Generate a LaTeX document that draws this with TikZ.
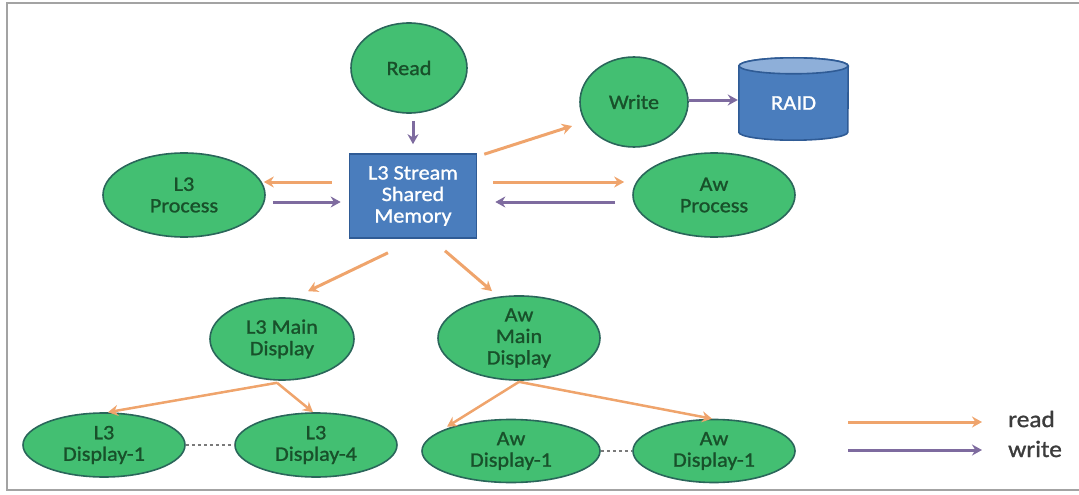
\documentclass[tikz,border=0pt]{standalone}
\usepackage{fontspec}
\setmainfont{Carlito}
\newfontfamily\diagfont[FakeStretch=1.08,FakeBold=1.2]{Carlito}
\usetikzlibrary{arrows.meta,calc,shapes.geometric,backgrounds}

\definecolor{nodefill}{HTML}{43BF72}
\definecolor{nodeedge}{HTML}{2A665A}
\definecolor{nodetext}{HTML}{18502A}
\definecolor{memfill}{HTML}{4A7DBD}
\definecolor{memedge}{HTML}{2F5B95}
\definecolor{raidtop}{HTML}{8EAFD9}
\definecolor{readclr}{HTML}{EFA46C}
\definecolor{writeclr}{HTML}{7E6B9F}
\definecolor{frameclr}{HTML}{A3A3A3}
\definecolor{legtext}{HTML}{3C3C3C}
\definecolor{dashclr}{HTML}{7A7A7A}

\begin{document}
\begin{tikzpicture}[x=1pt,y=-1pt,
  proc/.style={ellipse, draw=nodeedge, line width=1.6pt, fill=nodefill,
    inner sep=0pt, text=nodetext, align=center,
    font=\diagfont\fontsize{20.5}{21.5}\selectfont},
  membox/.style={rectangle, draw=memedge, line width=1.6pt, fill=memfill,
    inner sep=0pt, text=white, align=center,
    minimum width=127pt, minimum height=84pt,
    font=\diagfont\fontsize{20.5}{21.5}\selectfont},
  raidbox/.style={rectangle, inner sep=0pt, text=white,
    minimum width=109pt, minimum height=74pt,
    font=\diagfont\fontsize{21}{22}\selectfont},
  legend/.style={anchor=west, inner sep=0pt, text=legtext,
    font=\diagfont\fontsize{23.5}{24}\selectfont},
  rd/.style={draw=readclr, line width=3pt, -{Stealth[length=10pt,width=11pt]}},
  wr/.style={draw=writeclr, line width=3pt, -{Stealth[length=10pt,width=11pt]}},
  rdthin/.style={rd, line width=2.5pt},
  link/.style={draw=dashclr, line width=1.3pt, dashed}]

\useasboundingbox (0,0) rectangle (1079,495);
% outer frame
\draw[frameclr, line width=2pt] (7,3.5) rectangle (1100,490);

% nodes
\node[proc, minimum width=116pt, minimum height=90pt] (read) at (409,68) {Read};
\node[membox] (mem) at (413,196) {L3 Stream\\Shared\\Memory};
\node[proc, minimum width=162pt, minimum height=84pt] (lproc) at (184,195) {L3\\Process};
\node[proc, minimum width=108pt, minimum height=90pt] (write) at (634,102) {Write};
\node[raidbox] (raid) at (793.5,103) {RAID};
\node[proc, minimum width=162pt, minimum height=84pt] (aproc) at (714,195) {Aw\\Process};
\node[proc, minimum width=144pt, minimum height=82pt] (lmain) at (282,339) {L3 Main\\Display};
\node[proc, minimum width=162pt, minimum height=84pt] (amain) at (519,338) {Aw\\Main\\Display};
\node[proc, minimum width=162pt, minimum height=64pt] (ld1) at (104,445) {L3\\Display-1};
\node[proc, minimum width=162pt, minimum height=64pt] (ld4) at (316,445) {L3\\Display-4};
\node[proc, minimum width=178pt, minimum height=63pt] (ad1) at (511,451) {Aw\\Display-1};
\node[proc, minimum width=162pt, minimum height=63pt] (ad2) at (714,451) {Aw\\Display-1};

% RAID cylinder drawn behind its label
\begin{pgfonlayer}{background}
  \draw[draw=memedge, line width=1.6pt, fill=memfill]
    ($(raid.north west)$) -- ($(raid.south west)+(0,-8)$)
    arc[start angle=180, end angle=360, x radius=54.5pt, y radius=8pt]
    -- ($(raid.north east)$)
    arc[start angle=0, end angle=180, x radius=54.5pt, y radius=8pt] -- cycle;
  \draw[draw=memedge, line width=1.6pt, fill=raidtop]
    (raid.north) ellipse[x radius=54.5pt, y radius=8pt];
\end{pgfonlayer}

% data flow
\draw[wr] ($(read.south)+(4,7)$) -- ($(mem.north)+(0,-9)$);
\draw[rd] ($(mem.north east)+(7,1)$) -- ($(write.center)+(-62,24)$);
\draw[wr] ($(write.east)+(0,-2)$) -- ($(raid.west)+(-1,-3)$);
\draw[rd] ($(mem.west)+(-17,-14)$) -- ($(lproc.east)+(-2,-13)$);
\draw[wr] ($(lproc.east)+(7,7)$) -- ($(mem.west)+(-8,6)$);
\draw[rd] ($(mem.east)+(16,-14)$) -- ($(aproc.west)+(-8,-13)$);
\draw[wr] ($(aproc.west)+(-17,7)$) -- ($(mem.east)+(18,6)$);
\draw[rd] ($(mem.south)+(-25,14)$) -- ($(lmain.north)+(26,-6)$);
\draw[rd] ($(mem.south)+(32,12)$) -- ($(amain.north)+(-27,-4)$);
\draw[rdthin] ($(lmain.south)+(-5,2)$) -- ($(ld1.north)+(4,0)$);
\draw[rdthin] ($(lmain.south)+(-5,2)$) -- ($(ld4.north)+(-3,0)$);
\draw[rdthin] ($(amain.south)+(0,1)$) -- ($(ad1.north)+(-64,8)$);
\draw[rdthin] ($(amain.south)+(0,1)$) -- ($(ad2.north)+(-2,0)$);
\draw[link] (ld1.east) -- (ld4.west);
\draw[link] (ad1.east) -- (ad2.west);

% legend
\coordinate (rdA) at (848,422);
\coordinate (rdB) at (982,422);
\coordinate (wrA) at (848,450);
\coordinate (wrB) at (982,450);
\draw[rd] (rdA) -- (rdB);
\draw[wr] (wrA) -- (wrB);
\node[legend] (rdlab) at (1008,419) {read};
\node[legend] (wrlab) at (1008,449) {write};
\end{tikzpicture}
\end{document}
